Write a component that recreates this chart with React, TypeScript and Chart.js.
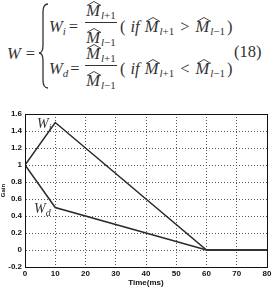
import React, { useEffect, useRef } from "react";
import { Chart, registerables } from "chart.js";

Chart.register(...registerables);

const timeMs = [0, 10, 60, 80];
const wiGain = [1, 1.5, 0, 0];
const wdGain = [1, 0.5, 0, 0];
const xTickValues = [0, 10, 20, 30, 40, 50, 60, 70, 80];
const yTickValues = [-0.2, 0, 0.2, 0.4, 0.6, 0.8, 1, 1.2, 1.4, 1.6];
const xTitle = "Time(ms)";
const yTitle = "Gain";

const SERIF = '"Liberation Serif", "Times New Roman", serif';
const F = 16.5;
const SUB = 11;

const Mhat: React.FC<{ sub: string }> = ({ sub }) => (
  <span style={{ whiteSpace: "nowrap" }}>
    <span style={{ position: "relative", display: "inline-block", fontStyle: "italic" }}>
      M
      <svg
        width={14}
        height={5}
        style={{ position: "absolute", left: 1, top: -2, overflow: "visible" }}
      >
        <polyline points="0,4.5 7,0.5 14,4.5" fill="none" stroke="#333" strokeWidth={0.9} />
      </svg>
    </span>
    <span style={{ fontSize: SUB, position: "relative", top: 3, marginLeft: 1 }}>
      <i>l</i>
      {sub}
    </span>
  </span>
);

const Frac: React.FC<{ left: number; top: number; width: number }> = ({ left, top, width }) => (
  <>
    <div style={{ position: "absolute", left, top: top - 19, width, textAlign: "center", lineHeight: 1, fontSize: F }}>
      <Mhat sub="+1" />
    </div>
    <div style={{ position: "absolute", left, top, width, height: 1, background: "#333" }} />
    <div style={{ position: "absolute", left, top: top + 8, width, textAlign: "center", lineHeight: 1, fontSize: F }}>
      <Mhat sub="−1" />
    </div>
  </>
);

const Txt: React.FC<{ left: number; top: number; children: React.ReactNode }> = ({ left, top, children }) => (
  <div style={{ position: "absolute", left, top, lineHeight: 1, fontSize: F, whiteSpace: "nowrap" }}>{children}</div>
);

const Cond: React.FC<{ op: string }> = ({ op }) => (
  <>
    (<span style={{ marginLeft: 5 }} />
    <i>if</i>
    <span style={{ marginLeft: 5 }} />
    <Mhat sub="+1" />
    <span style={{ margin: "0 6px" }}>{op}</span>
    <Mhat sub="−1" />
    <span style={{ marginLeft: 2 }}>)</span>
  </>
);

const Equation: React.FC = () => (
  <div style={{ position: "absolute", left: 0, top: 0, width: 275, height: 100, fontFamily: SERIF, color: "#333" }}>
    <Txt left={7} top={46}>
      <i>W</i>
      <span style={{ marginLeft: 5 }}>=</span>
    </Txt>
    <svg style={{ position: "absolute", left: 0, top: 0 }} width={60} height={100}>
      <path
        d="M 48 4 Q 43 4 43 12 L 43 45 Q 43 53 39 53 Q 43 53 43 61 L 43 80 Q 43 88 48 88"
        fill="none"
        stroke="#333"
        strokeWidth={1.3}
      />
    </svg>
    <Txt left={49} top={19}>
      <i>W</i>
      <span style={{ fontSize: SUB, position: "relative", top: 3 }}>
        <i>i</i>
      </span>
      <span style={{ marginLeft: 3 }}>=</span>
    </Txt>
    <Frac left={85} top={22} width={32} />
    <Txt left={120} top={19}>
      <Cond op=">" />
    </Txt>
    <Txt left={49} top={61}>
      <i>W</i>
      <span style={{ fontSize: SUB, position: "relative", top: 3 }}>
        <i>d</i>
      </span>
      <span style={{ marginLeft: 2 }}>=</span>
    </Txt>
    <Frac left={85} top={65} width={32} />
    <Txt left={120} top={61}>
      <Cond op="<" />
    </Txt>
    <Txt left={234} top={44}>
      (18)
    </Txt>
  </div>
);

const boxAndLabels = {
  id: "boxAndLabels",
  afterDatasetsDraw(chart: any) {
    const { ctx, chartArea, scales } = chart;
    ctx.save();
    ctx.setLineDash([]);
    ctx.strokeStyle = "#111";
    ctx.lineWidth = 1;
    ctx.strokeRect(
      Math.round(chartArea.left) + 0.5,
      Math.round(chartArea.top) + 0.5,
      Math.round(chartArea.right - chartArea.left),
      Math.round(chartArea.bottom - chartArea.top)
    );
    const put = (main: string, sub: string, xv: number, yv: number) => {
      const x = scales.x.getPixelForValue(xv);
      const y = scales.y.getPixelForValue(yv);
      ctx.fillStyle = "#333";
      ctx.font = 'italic 14px "Liberation Serif"';
      ctx.textBaseline = "alphabetic";
      ctx.textAlign = "left";
      ctx.fillText(main, x, y);
      const w = ctx.measureText(main).width;
      ctx.font = 'italic 10px "Liberation Serif"';
      ctx.fillText(sub, x + w, y + 3);
    };
    put("W", "i", 4, 1.435);
    put("W", "d", 3, 0.435);
    ctx.restore();
  },
};

const ChartBox: React.FC = () => {
  const ref = useRef<HTMLCanvasElement | null>(null);
  useEffect(() => {
    if (!ref.current) return;
    const mk = (ys: number[]) => timeMs.map((t, i) => ({ x: t, y: ys[i] }));
    const tickFont = { family: '"Liberation Sans", Arial, sans-serif', size: 8, weight: "bold" as const };
    const chart = new Chart(ref.current, {
      type: "line",
      data: {
        datasets: [
          { label: "Wi", data: mk(wiGain), borderColor: "#2a2a2a", borderWidth: 1.5, pointRadius: 0, tension: 0 },
          { label: "Wd", data: mk(wdGain), borderColor: "#2a2a2a", borderWidth: 1.5, pointRadius: 0, tension: 0 },
        ],
      },
      options: {
        animation: false,
        responsive: false,
        maintainAspectRatio: false,
        layout: { padding: { top: 14, right: 8, left: 0, bottom: 0 } },
        plugins: { legend: { display: false }, tooltip: { enabled: false } },
        scales: {
          x: {
            type: "linear",
            min: 0,
            max: 80,
            afterBuildTicks: (s: any) => {
              s.ticks = xTickValues.map((v) => ({ value: v }));
            },
            afterFit: (s: any) => {
              s.height = 21;
            },
            ticks: { color: "#111", font: tickFont, padding: 2, maxRotation: 0, autoSkip: false },
            grid: { color: "#555", lineWidth: 1, drawTicks: false },
            border: { display: true, color: "#111", width: 1, dash: [1, 2] },
            title: {
              display: true,
              text: xTitle,
              color: "#111",
              font: { family: '"Liberation Sans", Arial, sans-serif', size: 8, weight: "bold" },
              padding: { top: 0, bottom: 0 },
            },
          },
          y: {
            type: "linear",
            min: -0.2,
            max: 1.6,
            afterBuildTicks: (s: any) => {
              s.ticks = yTickValues.map((v) => ({ value: v }));
            },
            afterFit: (s: any) => {
              s.width = 25;
            },
            ticks: {
              color: "#111",
              font: tickFont,
              padding: 3,
              autoSkip: false,
              callback: (v: any) => String(Number(Number(v).toFixed(1))),
            },
            grid: { color: "#555", lineWidth: 1, drawTicks: false },
            border: { display: true, color: "#111", width: 1, dash: [1, 2] },
            title: {
              display: true,
              text: yTitle,
              color: "#111",
              font: { family: '"Liberation Sans", Arial, sans-serif', size: 6, weight: "bold" },
              padding: { top: 0, bottom: 0 },
            },
          },
        },
      },
      plugins: [boxAndLabels],
    } as any);
    return () => chart.destroy();
  }, []);
  return (
    <canvas
      ref={ref}
      width={275}
      height={188}
      style={{ position: "absolute", left: 0, top: 100, width: 275, height: 188 }}
    />
  );
};

export default function App() {
  return (
    <div style={{ position: "absolute", left: 0, top: 0, width: 275, height: 290, background: "#fff", overflow: "hidden" }}>
      <Equation />
      <ChartBox />
    </div>
  );
}
